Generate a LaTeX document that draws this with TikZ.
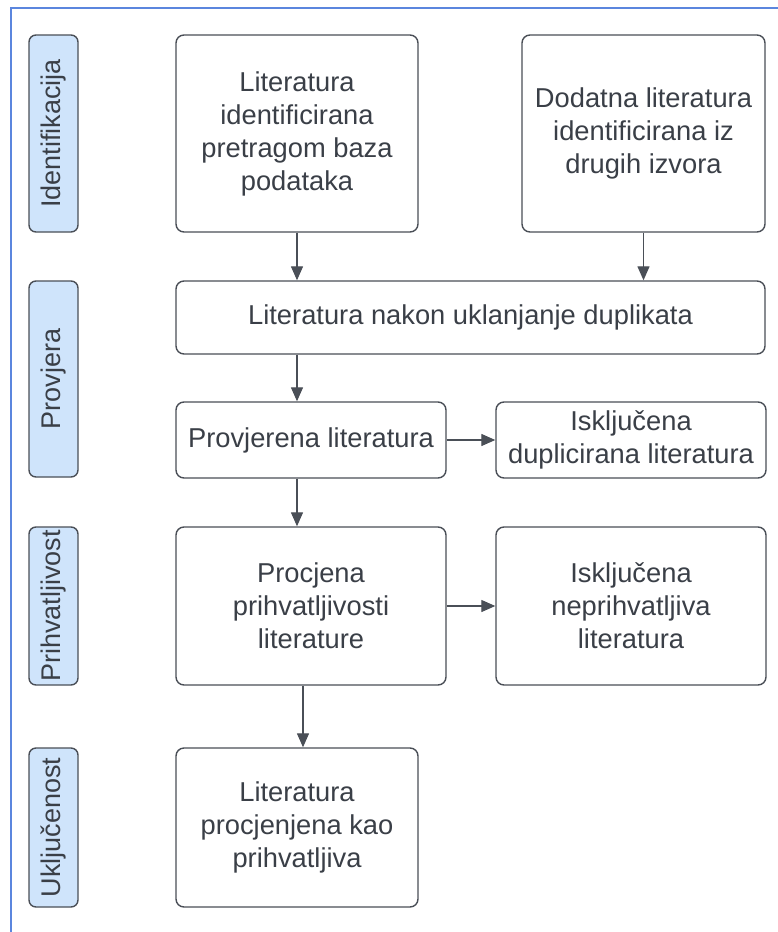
\documentclass[tikz,border=0pt]{standalone}
\usepackage{fontspec}
\setmainfont{Liberation Sans}
\usetikzlibrary{arrows.meta}
\definecolor{txt}{HTML}{3A3F47}
\definecolor{edge}{HTML}{4A4F57}
\definecolor{lane}{HTML}{CFE4FB}
\definecolor{frame}{HTML}{5B86DE}
\tikzset{
  box/.style={draw=edge, line width=1.4pt, rounded corners=8pt, fill=white, text=txt,
    align=center, inner sep=4pt, font=\fontsize{27.3}{33}\selectfont},
  lanebox/.style={draw=edge, line width=1.4pt, rounded corners=7pt, fill=lane, text=txt,
    rotate=90, inner sep=0pt, font=\fontsize{27}{33}\selectfont},
  arr/.style={draw=edge, line width=1.3pt, -{Triangle[length=14pt,width=12pt]}}
}
\begin{document}
\begin{tikzpicture}[x=1pt,y=-1pt]
\useasboundingbox (0,0) rectangle (778,932);
\fill[white] (0,0) rectangle (778,932);
\begin{scope}
\clip (0,0) rectangle (778,932);
\draw[frame, line width=2pt] (11,8) rectangle (800,960);
\end{scope}

% lanes (rotated: minimum width = vertical extent)
\node[lanebox, minimum width=197pt, minimum height=49pt] (l1) at (53.5,133.5) {Identifikacija};
\node[lanebox, minimum width=196pt, minimum height=49pt] (l2) at (53.5,379) {Provjera};
\node[lanebox, minimum width=158pt, minimum height=49pt] (l3) at (53.5,606) {Prihvatljivost};
\node[lanebox, minimum width=159pt, minimum height=49pt] (l4) at (53.5,827.5) {Uključenost};

% boxes
\node[box, minimum width=242pt, minimum height=197pt] (b1) at (297,133.5) {Literatura\\identificirana\\pretragom baza\\podataka};
\node[box, minimum width=243pt, minimum height=197pt] (b2) at (643.5,133.5) {Dodatna literatura\\identificirana iz\\drugih izvora};
\node[box, minimum width=589pt, minimum height=73pt] (b3) at (470.5,317.5) {Literatura nakon uklanjanje duplikata};
\node[box, minimum width=270pt, minimum height=76pt] (b4) at (311,440) {Provjerena literatura};
\node[box, minimum width=270pt, minimum height=76pt] (b5) at (631,440) {Isključena\\duplicirana literatura};
\node[box, minimum width=270pt, minimum height=158pt] (b6) at (311,606) {Procjena\\prihvatljivosti\\literature};
\node[box, minimum width=270pt, minimum height=158pt] (b7) at (631,606) {Isključena\\neprihvatljiva\\literatura};
\node[box, minimum width=242pt, minimum height=159pt] (b8) at (297,827.5) {Literatura\\procjenjena kao\\prihvatljiva};

% connectors
\draw[arr] (b1.south) -- (b1.south |- b3.north);
\draw[arr] (b2.south) -- (b2.south |- b3.north);
\draw[arr] (b3.south -| b1.south) -- (b4.north -| b1.south);
\draw[arr] (b4.south -| b1.south) -- (b6.north -| b1.south);
\draw[arr] ([xshift=6pt]b8.north |- b6.south) -- ([xshift=6pt]b8.north);
\draw[arr] (b4.east) -- (b5.west);
\draw[arr] (b6.east) -- (b7.west);
\end{tikzpicture}
\end{document}
